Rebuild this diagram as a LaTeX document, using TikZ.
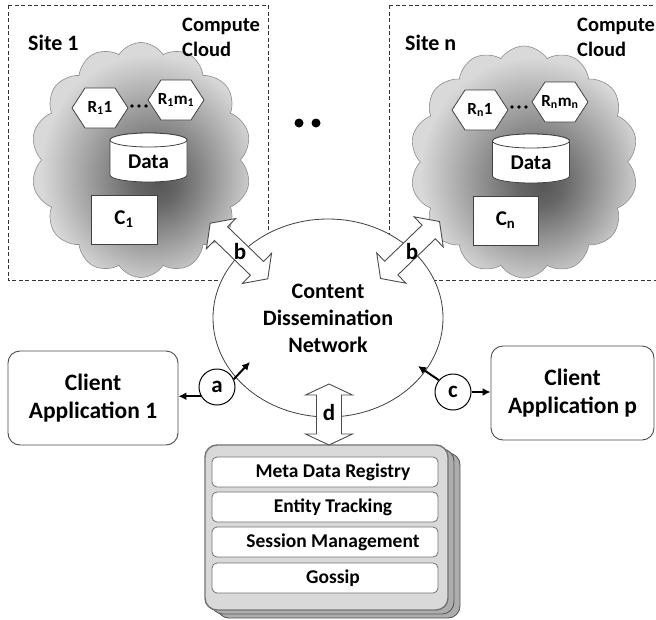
\documentclass[tikz,border=0pt]{standalone}
\usepackage{fontspec}
\setmainfont{Carlito}
\usetikzlibrary{shapes.symbols,shapes.geometric,arrows.meta}

% darker core of each compute cloud, fading to a light rim
\pgfdeclareradialshading{cloudshade}{\pgfpoint{4bp}{-5bp}}{%
  color(0bp)=(black!66); color(5bp)=(black!60); color(25bp)=(black!15); color(50bp)=(black!15)}

% hexagonal resource: name, x, y, text
\newcommand\resourcehex[4]{%
  \draw[hexline] (#2,#3) +(-28,0) -- +(-15,-20) -- +(15,-20) -- +(28,0) -- +(15,20) -- +(-15,20) -- cycle;
  \node[hextext] (#1) at (#2,#3) {#4};}

% data store cylinder: name, x, y (centre), half height
\newcommand\datastore[4]{%
  \filldraw[plain] ({#2-38.5},{#3-#4+7}) -- ({#2-38.5},{#3+#4-7})
    arc[start angle=180,end angle=0,x radius=38.5,y radius=7]
    -- ({#2+38.5},{#3-#4+7})
    arc[start angle=0,end angle=-180,x radius=38.5,y radius=7] -- cycle;
  \draw[plain] (#2,{#3-#4+7}) ellipse[x radius=38.5,y radius=7];
  \node[midtext] (#1) at (#2,{#3+4}) {Data};}

% double-headed block arrow: x, y, rotation, half length
\newcommand\blockarrow[4]{%
  \draw[blockline,shift={(#1,#2)},rotate=#3]
    (-#4,0) -- ({-#4+15},21) -- ({-#4+15},9.5) -- ({#4-15},9.5) -- ({#4-15},21)
    -- (#4,0) -- ({#4-15},-21) -- ({#4-15},-9.5) -- ({-#4+15},-9.5) -- ({-#4+15},-21) -- cycle;}

\begin{document}
\begin{tikzpicture}[x=1pt,y=-1pt,
  every node/.style={font=\bfseries\fontsize{23}{27}\selectfont, text=black},
  site/.style={draw=black!80, dash pattern=on 4pt off 2.5pt, line width=0.8pt},
  cloudnode/.style={cloud, cloud puffs=14, cloud puff arc=115, cloud ignores aspect,
    draw=black!45, line width=0.6pt, shade, shading=cloudshade, inner sep=0},
  hexline/.style={draw=black!75, fill=white, line width=0.8pt},
  hextext/.style={font=\bfseries\fontsize{17}{19}\selectfont, inner sep=0},
  midtext/.style={font=\bfseries\fontsize{21}{23}\selectfont, inner sep=0},
  plain/.style={draw=black!75, fill=white, line width=0.8pt},
  compute/.style={draw=black!75, fill=white, line width=0.8pt, inner sep=0,
    font=\bfseries\fontsize{21}{23}\selectfont},
  sitetext/.style={font=\bfseries\fontsize{22}{24}\selectfont, anchor=west, inner sep=0},
  smalltext/.style={font=\bfseries\fontsize{20.5}{25}\selectfont, align=left, anchor=west, inner sep=0},
  client/.style={draw=black!70, fill=white, rounded corners=12pt, line width=0.9pt,
    align=center, inner sep=0, font=\bfseries\fontsize{23.5}{28}\selectfont},
  tag/.style={circle, draw=black, fill=white, line width=1pt, minimum size=36pt, inner sep=0},
  link/.style={line width=2pt, -{Latex[length=8pt,width=8pt]}},
  blockline/.style={draw=black!70, fill=white, line width=0.9pt, line join=miter},
  backlayer/.style={draw=black!65, fill=black!32, line width=0.9pt, rounded corners=12pt},
  stackbox/.style={draw=black!55, fill=black!15, line width=1.4pt, rounded corners=12pt, inner sep=0},
  rowbox/.style={draw=black!55, fill=white, line width=0.8pt, rounded corners=5pt, inner sep=0,
    minimum width=226pt, minimum height=30pt, font=\bfseries\fontsize{19.5}{21}\selectfont}]

\useasboundingbox (0,0) rectangle (656,619);
\fill[white] (0,0) rectangle (656,619);

% ---- compute clouds ----
\node[cloudnode, minimum width=220pt, minimum height=235pt] (cloud1) at (141,160) {};
\node[cloudnode, minimum width=228pt, minimum height=232pt] (cloudn) at (524,162) {};

% ---- site boundaries ----
\draw[site] (8,5) rectangle (268,280);
\draw[site] (389,5) rectangle (662,280);

\node[sitetext] (site1) at (28,43) {Site 1};
\node[sitetext] (siten) at (405,43) {Site n};
\node[smalltext] (cc1) at (182,37.5) {Compute\\Cloud};
\node[smalltext] (ccn) at (577,37.5) {Compute\\Cloud};

% ---- site 1 contents ----
\resourcehex{r11}{100}{108}{R\textsubscript{1}1}
\resourcehex{r1m}{176}{100}{R\textsubscript{1}m\textsubscript{1}}
\foreach \px in {132,139,146} \fill (\px,106) circle (1.8);
\datastore{data1}{148.5}{157.5}{24.5}
\node[compute, minimum width=66pt, minimum height=49pt] (c1) at (124,219.5) {C\textsubscript{1}};

% ---- site n contents ----
\resourcehex{rn1}{480}{110}{R\textsubscript{n}1}
\resourcehex{rnm}{560}{102}{R\textsubscript{n}m\textsubscript{n}}
\foreach \px in {512,519,526} \fill (\px,107) circle (1.8);
\datastore{datan}{531}{158.5}{24.5}
\node[compute, minimum width=65pt, minimum height=49pt] (cn) at (505.5,220.5) {C\textsubscript{n}};

% ---- further sites ----
\fill (299,123) circle (4.5);
\fill (316,123) circle (4.5);

% ---- content dissemination network ----
\node[ellipse, draw=black!75, fill=white, line width=0.8pt, minimum width=230pt,
      minimum height=198pt, align=center, inner sep=0,
      font=\bfseries\fontsize{22}{27}\selectfont] (cdn) at (328,318)
      {Content\\Dissemination\\Network};

% ---- links between sites and network ----
\blockarrow{239}{251}{-44}{40}
\node[inner sep=0] (bl) at (240,252) {b};
\blockarrow{410}{250}{44}{41}
\node[inner sep=0] (bn) at (412,252) {b};

% ---- client applications ----
\node[client, minimum width=170pt, minimum height=94pt] (cl1) at (93,398) {Client\\Application 1};
\node[client, minimum width=163pt, minimum height=94pt] (clp) at (572.5,393) {Client\\Application p};

\coordinate (aend) at (250,362);
\coordinate (cend) at (418,366);
\node[tag] (ta) at (217,387) {a};
\node[tag] (tc) at (453,392) {c};
\draw[link] (ta.210) -- (ta.210 -| cl1.east);
\draw[link] (ta.25) -- (aend);
\draw[link] (tc.east) -- (tc.east -| clp.west);
\draw[link] (tc.140) -- (cend);

% ---- registry stack ----
\draw[backlayer] (217,453) rectangle (460,618);
\draw[backlayer] (211,449) rectangle (454,614);
\node[stackbox, minimum width=243pt, minimum height=165pt] (stack) at (326.5,527.5) {};
\node[rowbox] (row1) at (325,472) {\hspace*{16pt}Meta Data Registry};
\node[rowbox] (row2) at (325,507) {\hspace*{16pt}Entity Tracking};
\node[rowbox] (row3) at (325,542) {\hspace*{16pt}Session Management};
\node[rowbox] (row4) at (325,578) {\hspace*{16pt}Gossip};

% ---- link between network and stack ----
\draw[blockline] (329,384) -- (352.5,395) -- (341.5,395) -- (341.5,434) -- (352.5,434)
  -- (329,445) -- (305.5,434) -- (316.5,434) -- (316.5,395) -- (305.5,395) -- cycle;
\node[inner sep=0] (dl) at (329,413) {d};

\end{tikzpicture}
\end{document}
